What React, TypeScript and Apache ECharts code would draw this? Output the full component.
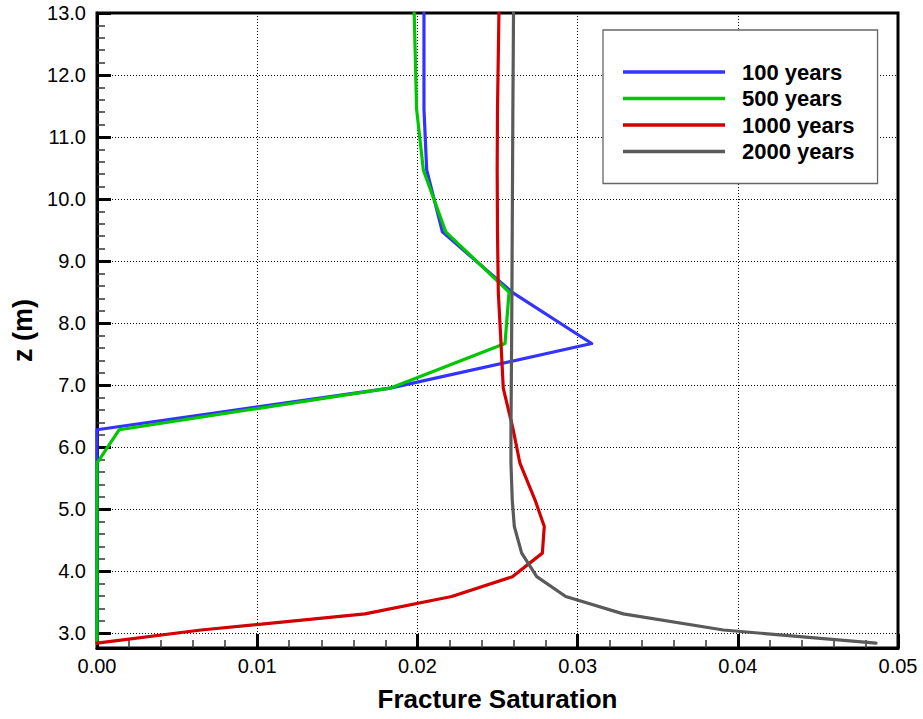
import React, { useEffect, useRef } from "react";
import * as echarts from "echarts";

// Depth nodes (m) shared by all profiles
const zNodes = [13.0, 11.45, 10.47, 9.47, 8.5, 7.67, 6.95, 6.28, 5.74, 5.15, 4.72, 4.29, 3.91, 3.59, 3.31, 3.05, 2.84];

// Fracture saturation at each depth node
const sat100 = [0.02041, 0.02041, 0.02058, 0.02156, 0.0259, 0.03088, 0.0183, 0.0, 0, 0, 0, 0, 0, 0, 0, 0, 0];
const sat500 = [0.0198, 0.01995, 0.02037, 0.02177, 0.02572, 0.02547, 0.01829, 0.00139, 0, 0, 0, 0, 0, 0, 0, 0, 0];
const sat1000 = [0.02509, 0.025, 0.02498, 0.025, 0.02505, 0.02522, 0.02536, 0.02598, 0.0264, 0.02734, 0.02792, 0.0278, 0.02593, 0.02214, 0.01673, 0.0065, 0.0];
const sat2000 = [0.026, 0.02596, 0.02594, 0.02592, 0.0259, 0.02588, 0.02586, 0.02584, 0.02584, 0.02592, 0.02605, 0.02651, 0.02745, 0.02926, 0.03285, 0.0391, 0.04863];

const seriesNames = ["100 years", "500 years", "1000 years", "2000 years"];
const seriesColors = ["#3333ff", "#00c800", "#d20000", "#5a5a5a"];

// Axis ranges and tick labels
const zMin = 2.76;
const zMax = 13.0;
const zMajorTicks = [3, 4, 5, 6, 7, 8, 9, 10, 11, 12, 13];
const satMin = 0;
const satMax = 0.05;
const satInterval = 0.01;

const FONT = "'Liberation Sans', Arial, Helvetica, sans-serif";

function minorTicksBetween(majors: number[], parts: number): number[] {
  const out: number[] = [];
  for (let i = 0; i < majors.length - 1; i++) {
    const step = (majors[i + 1] - majors[i]) / parts;
    for (let k = 1; k < parts; k++) out.push(+(majors[i] + k * step).toFixed(4));
  }
  return out;
}

export default function App() {
  const ref = useRef<HTMLDivElement>(null);

  useEffect(() => {
    if (!ref.current) return;
    const chart = echarts.init(ref.current, undefined, { renderer: "svg" });

    const profiles = [sat100, sat500, sat1000, sat2000];
    const series = profiles.map((vals, i) => ({
      name: seriesNames[i],
      type: "line",
      yAxisIndex: 0,
      symbol: "none",
      showSymbol: false,
      clip: true,
      color: seriesColors[i],
      lineStyle: { color: seriesColors[i], width: 3.2, cap: "round", join: "round" },
      data: vals.map((v, k) => [v, zNodes[k]]),
      z: 3 + i,
    }));

    const zMinor = minorTicksBetween(zMajorTicks, 5);

    chart.setOption({
      animation: false,
      backgroundColor: "#ffffff",
      textStyle: { fontFamily: FONT },
      grid: {
        left: 97,
        right: 25,
        top: 13,
        bottom: 71,
        show: true,
        borderColor: "#000",
        borderWidth: 3,
        backgroundColor: "transparent",
      },
      legend: {
        orient: "vertical",
        left: 603,
        top: 30,
        data: seriesNames,
        icon: "rect",
        itemWidth: 102,
        itemHeight: 3.5,
        itemGap: 2.5,
        padding: [30, 23, 20, 20],
        backgroundColor: "#ffffff",
        borderColor: "#666666",
        borderWidth: 1.3,
        selectedMode: false,
        textStyle: {
          fontFamily: FONT,
          fontWeight: "bold",
          fontSize: 22,
          lineHeight: 24,
          color: "#000",
          padding: [0, 0, 0, 12],
        },
      },
      xAxis: {
        type: "value",
        min: satMin,
        max: satMax,
        interval: satInterval,
        name: "Fracture Saturation",
        nameLocation: "middle",
        nameGap: 38,
        nameTextStyle: { fontFamily: FONT, fontWeight: "bold", fontSize: 26, color: "#000" },
        axisLine: { show: true, lineStyle: { color: "#000", width: 3 } },
        axisTick: { show: true, inside: true, length: 14, lineStyle: { color: "#000", width: 3 } },
        minorTick: { show: true, splitNumber: 5, length: 8, lineStyle: { color: "#333", width: 1.5 } },
        axisLabel: {
          margin: 8,
          fontFamily: FONT,
          fontSize: 20,
          color: "#000",
          formatter: (v: number) => v.toFixed(2),
        },
        splitLine: { show: true, lineStyle: { color: "#000", width: 1, type: [1, 2] } },
      },
      yAxis: [
        {
          type: "value",
          min: zMin,
          max: zMax,
          name: "z (m)",
          nameLocation: "middle",
          nameGap: 61,
          nameRotate: 90,
          nameTextStyle: { fontFamily: FONT, fontWeight: "bold", fontSize: 27, color: "#000" },
          axisLine: { show: true, lineStyle: { color: "#000", width: 3 } },
          axisTick: {
            show: true,
            inside: true,
            length: 14,
            customValues: zMajorTicks,
            lineStyle: { color: "#000", width: 3 },
          },
          axisLabel: {
            margin: 11,
            fontFamily: FONT,
            fontSize: 20,
            color: "#000",
            customValues: zMajorTicks,
            formatter: (v: number) => v.toFixed(1),
          },
          splitLine: { show: true, lineStyle: { color: "#000", width: 1, type: [1, 2] } },
        },
        {
          type: "value",
          min: zMin,
          max: zMax,
          position: "left",
          axisLine: { show: false },
          axisLabel: { show: false },
          splitLine: { show: false },
          axisTick: {
            show: true,
            inside: true,
            length: 8,
            customValues: zMinor,
            lineStyle: { color: "#333", width: 1.5 },
          },
        },
      ],
      series,
    });

    return () => chart.dispose();
  }, []);

  return (
    <div
      ref={ref}
      style={{ position: "absolute", left: 0, top: 0, width: 923, height: 719 }}
    />
  );
}
